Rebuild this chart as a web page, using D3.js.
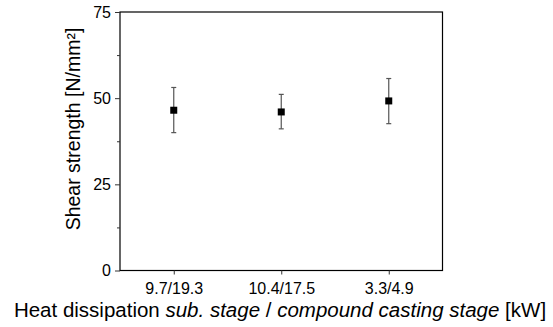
<!DOCTYPE html>
<html><head><meta charset="utf-8">
<script src="https://cdn.jsdelivr.net/npm/d3@7"></script>
<style>body{margin:0;background:#fff}svg{display:block}text{font-family:"Liberation Sans",Arial,sans-serif}</style>
</head><body>
<script>
const categories = ["9.7/19.3", "10.4/17.5", "3.3/4.9"];
const means = [46.5, 46.0, 49.2];
const errUpper = [53.1, 51.1, 55.7];
const errLower = [40.0, 41.1, 42.6];
const yTicks = [0, 25, 50, 75];
const yMinorTicks = [12.5, 37.5, 62.5];

const W = 553, H = 327;
const m = {left: 120, top: 12, right: 442.5, bottom: 270.5};
const svg = d3.select("body").append("svg").attr("width", W).attr("height", H);

const x = d3.scaleLinear().domain([0.5, 3.5]).range([m.left, m.right]);
const y = d3.scaleLinear().domain([0, 75]).range([m.bottom, m.top]);

// frame
svg.append("rect").attr("x", m.left).attr("y", m.top)
  .attr("width", m.right - m.left).attr("height", m.bottom - m.top)
  .attr("fill", "none").attr("stroke", "#000").attr("stroke-width", 1.2);

// y axis
const yAx = svg.append("g").attr("transform", `translate(${m.left},0)`)
  .call(d3.axisLeft(y).tickValues(yTicks).tickSize(5).tickPadding(4).tickFormat(d3.format("d")));
yAx.select(".domain").remove();
yAx.selectAll("line").attr("stroke", "#333");
yAx.selectAll("text").attr("font-size", 16).attr("fill", "#000").attr("font-family", "Liberation Sans, Arial, sans-serif");
svg.append("g").attr("transform", `translate(${m.left},0)`)
  .call(d3.axisLeft(y).tickValues(yMinorTicks).tickSize(3).tickFormat(""))
  .call(g => g.select(".domain").remove())
  .selectAll("line").attr("stroke", "#333");

// x axis
const xAx = svg.append("g").attr("transform", `translate(0,${m.bottom})`)
  .call(d3.axisBottom(x).tickValues([1, 2, 3]).tickSize(4).tickPadding(8).tickFormat((d, i) => categories[i]));
xAx.select(".domain").remove();
xAx.selectAll("line").attr("stroke", "#333");
xAx.selectAll("text").attr("font-size", 16).attr("fill", "#000").attr("font-family", "Liberation Sans, Arial, sans-serif");

// error bars
const pts = categories.map((c, i) => ({i: i + 1, m: means[i], hi: errUpper[i], lo: errLower[i]}));
const eb = svg.append("g").attr("stroke", "#555").attr("stroke-width", 1.2);
eb.selectAll(".v").data(pts).join("line")
  .attr("x1", d => x(d.i)).attr("x2", d => x(d.i)).attr("y1", d => y(d.hi)).attr("y2", d => y(d.lo));
eb.selectAll(".t").data(pts).join("line")
  .attr("x1", d => x(d.i) - 2.5).attr("x2", d => x(d.i) + 2.5).attr("y1", d => y(d.hi)).attr("y2", d => y(d.hi));
eb.selectAll(".b").data(pts).join("line")
  .attr("x1", d => x(d.i) - 2.5).attr("x2", d => x(d.i) + 2.5).attr("y1", d => y(d.lo)).attr("y2", d => y(d.lo));

// markers
svg.append("g").selectAll("rect").data(pts).join("rect")
  .attr("x", d => x(d.i) - 3.5).attr("y", d => y(d.m) - 3.5)
  .attr("width", 7).attr("height", 7).attr("fill", "#000");

// axis titles
svg.append("text").attr("transform", `translate(80,129) rotate(-90)`)
  .attr("text-anchor", "middle").attr("font-size", 19.5).text("Shear strength [N/mm²]");

const xt = svg.append("text").attr("x", 280).attr("y", 316.5).attr("text-anchor", "middle").attr("font-size", 20.5);
xt.append("tspan").text("Heat dissipation ");
xt.append("tspan").attr("font-style", "italic").text("sub. stage");
xt.append("tspan").text(" / ");
xt.append("tspan").attr("font-style", "italic").text("compound casting stage");
xt.append("tspan").text(" [kW]");
</script>
</body></html>
